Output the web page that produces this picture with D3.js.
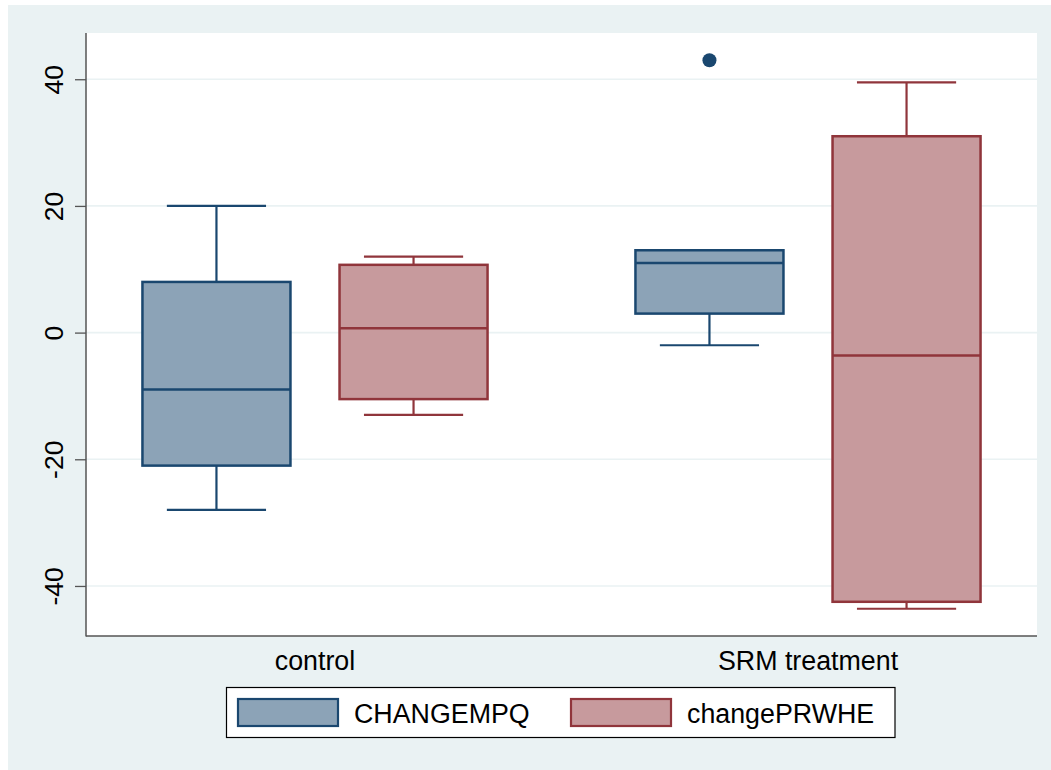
<!DOCTYPE html>
<html>
<head>
<meta charset="utf-8">
<script src="https://cdn.jsdelivr.net/npm/d3@7"></script>
<style>
  body { margin: 0; background: #fff; }
  svg { display: block; font-family: "Liberation Sans", Arial, sans-serif; }
</style>
</head>
<body>
<div id="chart"></div>
<script>
// categories and series
const groups = ["control", "SRM treatment"];
const series = ["CHANGEMPQ", "changePRWHE"];

// box stats per group (control, SRM treatment)
const mpqLow  = [-28, -2];
const mpqQ1   = [-21, 3];
const mpqMed  = [-9, 11];
const mpqQ3   = [8, 13];
const mpqHigh = [20, 13];

const prwLow  = [-13, -43.6];
const prwQ1   = [-10.5, -42.5];
const prwMed  = [0.7, -3.6];
const prwQ3   = [10.7, 31];
const prwHigh = [12, 39.5];

// outside values
const outGroup = ["SRM treatment"];
const outSeries = ["CHANGEMPQ"];
const outValue = [43];

const yTicks = [-40, -20, 0, 20, 40];

const stroke = {CHANGEMPQ: "#1a476f", changePRWHE: "#90353b"};
const fill = {CHANGEMPQ: "#8ca3b7", changePRWHE: "#c79a9d"};

// build box rows
const boxes = [];
groups.forEach((g, i) => {
  boxes.push({group: g, key: "CHANGEMPQ", low: mpqLow[i], q1: mpqQ1[i], med: mpqMed[i], q3: mpqQ3[i], high: mpqHigh[i]});
  boxes.push({group: g, key: "changePRWHE", low: prwLow[i], q1: prwQ1[i], med: prwMed[i], q3: prwQ3[i], high: prwHigh[i]});
});
const outliers = outValue.map((v, i) => ({group: outGroup[i], key: outSeries[i], value: v}));

const W = 1051, H = 770;
const plot = {left: 86, top: 33, right: 1037, bottom: 636};

const svg = d3.select("#chart").append("svg")
  .attr("width", W).attr("height", H);

// outer region
svg.append("rect")
  .attr("x", 8).attr("y", 5)
  .attr("width", W - 8).attr("height", H - 5)
  .attr("fill", "#eaf2f3");

svg.append("rect")
  .attr("x", plot.left).attr("y", plot.top)
  .attr("width", plot.right - plot.left).attr("height", plot.bottom - plot.top)
  .attr("fill", "#fff");

const y = d3.scaleLinear().domain([-47.9, 47.3]).range([plot.bottom, plot.top]);

const x0 = d3.scaleBand().domain(groups)
  .range([plot.left, plot.right])
  .paddingInner(0.3).paddingOuter(0.1145);

const x1 = d3.scaleBand().domain(series)
  .range([0, x0.bandwidth()])
  .paddingInner(0.249).paddingOuter(0);

// gridlines
svg.append("g").selectAll("line")
  .data(yTicks).join("line")
  .attr("x1", plot.left).attr("x2", plot.right)
  .attr("y1", d => y(d)).attr("y2", d => y(d))
  .attr("stroke", "#eaf2f3").attr("stroke-width", 1.6);

// y axis
const yAxis = svg.append("g")
  .attr("transform", "translate(" + plot.left + ",0)")
  .call(d3.axisLeft(y).tickValues(yTicks).tickFormat(d => String(d))
    .tickSize(11).tickPadding(0).tickSizeOuter(0));
yAxis.select(".domain").remove();
yAxis.selectAll(".tick line").attr("stroke", "#555").attr("stroke-width", 1.3);
yAxis.selectAll(".tick text")
  .attr("x", null).attr("dy", null)
  .attr("transform", "translate(-23,0) rotate(-90)")
  .attr("text-anchor", "middle")
  .attr("fill", "#000")
  .style("font-size", "26.5px");

svg.append("line")
  .attr("x1", plot.left).attr("x2", plot.left)
  .attr("y1", plot.top).attr("y2", plot.bottom + 0.5)
  .attr("stroke", "#555").attr("stroke-width", 1.5);
svg.append("line")
  .attr("x1", plot.left).attr("x2", plot.right)
  .attr("y1", plot.bottom).attr("y2", plot.bottom)
  .attr("stroke", "#555").attr("stroke-width", 1.5);

// category labels
svg.append("g").selectAll("text")
  .data(groups).join("text")
  .attr("x", d => x0(d) + x0.bandwidth() / 2)
  .attr("y", 670)
  .attr("text-anchor", "middle")
  .style("font-size", "26.8px")
  .text(d => d);

// boxes
const bw = x1.bandwidth();
const capW = bw * 0.67;
const bx = svg.append("g").selectAll("g")
  .data(boxes).join("g")
  .attr("transform", d => "translate(" + (x0(d.group) + x1(d.key)) + ",0)");

bx.append("line") // upper whisker
  .attr("x1", bw / 2).attr("x2", bw / 2)
  .attr("y1", d => y(d.q3)).attr("y2", d => y(d.high))
  .attr("stroke", d => stroke[d.key]).attr("stroke-width", 2.2);
bx.append("line") // lower whisker
  .attr("x1", bw / 2).attr("x2", bw / 2)
  .attr("y1", d => y(d.q1)).attr("y2", d => y(d.low))
  .attr("stroke", d => stroke[d.key]).attr("stroke-width", 2.2);
bx.append("line")
  .attr("x1", (bw - capW) / 2).attr("x2", (bw + capW) / 2)
  .attr("y1", d => y(d.high)).attr("y2", d => y(d.high))
  .attr("stroke", d => stroke[d.key]).attr("stroke-width", 2.2);
bx.append("line")
  .attr("x1", (bw - capW) / 2).attr("x2", (bw + capW) / 2)
  .attr("y1", d => y(d.low)).attr("y2", d => y(d.low))
  .attr("stroke", d => stroke[d.key]).attr("stroke-width", 2.2);
bx.append("rect")
  .attr("x", 0).attr("width", bw)
  .attr("y", d => y(d.q3)).attr("height", d => y(d.q1) - y(d.q3))
  .attr("fill", d => fill[d.key])
  .attr("stroke", d => stroke[d.key]).attr("stroke-width", 2.5);
bx.append("line") // median
  .attr("x1", 0).attr("x2", bw)
  .attr("y1", d => y(d.med)).attr("y2", d => y(d.med))
  .attr("stroke", d => stroke[d.key]).attr("stroke-width", 2.5);

// outside values
svg.append("g").selectAll("circle")
  .data(outliers).join("circle")
  .attr("cx", d => x0(d.group) + x1(d.key) + bw / 2)
  .attr("cy", d => y(d.value))
  .attr("r", 7)
  .attr("fill", d => stroke[d.key]);

// legend
const leg = svg.append("g");
leg.append("rect")
  .attr("x", 226.5).attr("y", 687.5)
  .attr("width", 668.5).attr("height", 50)
  .attr("fill", "#fff").attr("stroke", "#000").attr("stroke-width", 1.2);

const legX = d3.scalePoint().domain(series).range([238, 571]);
const li = leg.selectAll("g.item")
  .data(series).join("g")
  .attr("class", "item")
  .attr("transform", d => "translate(" + legX(d) + ",699)");
li.append("rect")
  .attr("width", 100).attr("height", 27)
  .attr("fill", d => fill[d])
  .attr("stroke", d => stroke[d]).attr("stroke-width", 2.2);
li.append("text")
  .attr("x", 116).attr("y", 23.5)
  .style("font-size", "26.8px")
  .text(d => d);
</script>
</body>
</html>
